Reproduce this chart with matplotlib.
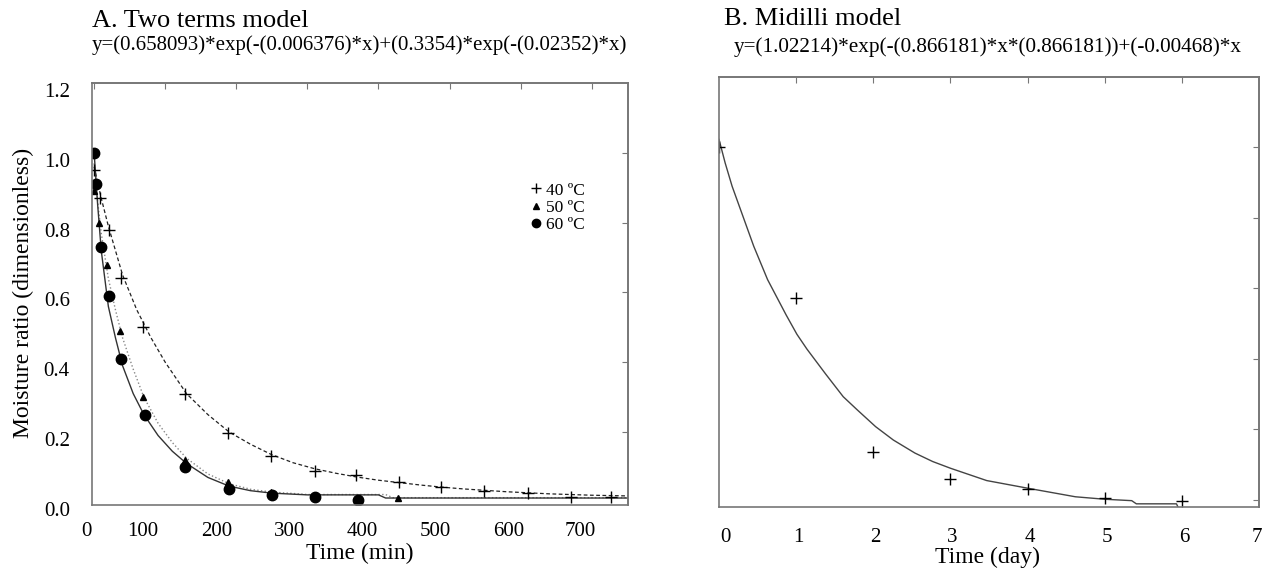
import matplotlib.pyplot as plt
import matplotlib.transforms as mtransforms
from matplotlib.lines import Line2D

plt.rcParams['font.family'] = ['Liberation Serif', 'DejaVu Serif']

# A. two terms model - measured points (time in min, moisture ratio)
t40 = [0, 8, 21, 38, 69, 128, 188, 249, 310, 369, 429, 488, 549, 610, 671, 727]
mr40 = [0.95, 0.87, 0.78, 0.64, 0.50, 0.31, 0.196, 0.131, 0.087, 0.077, 0.056,
        0.044, 0.031, 0.025, 0.015, 0.015]
t50 = [0, 7, 18, 37, 69, 128, 188, 249, 427]
mr50 = [0.89, 0.80, 0.68, 0.49, 0.30, 0.12, 0.056, 0.027, 0.011]
t60 = [0, 3, 9, 21, 38, 71, 128, 190, 250, 310, 371]
mr60 = [1.0, 0.91, 0.73, 0.59, 0.41, 0.25, 0.10, 0.036, 0.020, 0.013, 0.004]

# fitted curves
fit_t40 = [0, 10, 20, 40, 60, 80, 100, 130, 160, 190, 220, 250, 280, 310, 340,
           370, 400, 430, 460, 490, 520, 550, 580, 610, 640, 670, 700, 751]
fit40 = [0.96, 0.87, 0.79, 0.65, 0.55, 0.47, 0.40, 0.31, 0.25, 0.20, 0.165, 0.135,
         0.112, 0.095, 0.082, 0.071, 0.062, 0.055, 0.048, 0.042, 0.037, 0.033,
         0.029, 0.026, 0.023, 0.021, 0.019, 0.017]
fit_t50 = [0, 5, 10, 20, 30, 40, 55, 70, 90, 110, 130, 160, 190, 220, 250, 280,
           300, 410, 420, 751]
fit50 = [0.97, 0.86, 0.77, 0.64, 0.55, 0.47, 0.38, 0.30, 0.225, 0.17, 0.125, 0.08,
         0.052, 0.036, 0.028, 0.024, 0.021, 0.021, 0.012, 0.012]
fit_t60 = [0, 5, 10, 20, 30, 40, 55, 70, 90, 110, 130, 160, 190, 220, 250, 280,
           300, 400, 410, 751]
fit60 = [1.0, 0.85, 0.72, 0.56, 0.47, 0.39, 0.31, 0.25, 0.19, 0.145, 0.11, 0.07,
         0.045, 0.032, 0.025, 0.022, 0.02, 0.02, 0.011, 0.011]

# B. Midilli model (time in days)
days = [0, 1, 2, 3, 4, 5, 6]
mr_day = [1.0, 0.573, 0.137, 0.059, 0.030, 0.005, -0.003]
fit_day = [0, 0.08, 0.17, 0.31, 0.45, 0.63, 0.87, 1.01, 1.14, 1.38, 1.61, 1.79,
           2.03, 2.26, 2.54, 2.77, 3.0, 3.47, 4.01, 4.62, 5.0, 5.35, 5.41, 5.93, 5.95]
fit_mr = [1.023, 0.956, 0.89, 0.805, 0.72, 0.625, 0.525, 0.47, 0.428, 0.358, 0.293,
          0.256, 0.208, 0.17, 0.133, 0.109, 0.09, 0.055, 0.033, 0.009, 0.002,
          -0.002, -0.011, -0.011, -0.02]

W, H = 1263, 573
fig = plt.figure(figsize=(W / 100, H / 100), dpi=100)


def px(x, y):
    return x / W, 1 - y / H


spine_col = '#777777'

# ---- panel A
ax1 = fig.add_axes([92 / W, 68 / H, 536 / W, 422 / H])
ax1.plot(fit_t40, fit40, color='#222222', lw=0.9, ls=(0, (3, 2)))
ax1.plot(fit_t50, fit50, color='#888888', lw=1.0, ls=':')
ax1.plot(fit_t60, fit60, color='#333333', lw=1.0)
ax1.plot(t40, mr40, ls='none', marker='+', ms=8, mew=1.0, color='k')
ax1.plot(t50, mr50, ls='none', marker='^', ms=5, color='k')
ax1.plot(t60, mr60, ls='none', marker='o', ms=7.5, color='k')
ax1.set_xlim(-3, 751)
ax1.set_ylim(-0.009, 1.2)
ax1.set_xticks(range(0, 800, 100))
ax1.set_yticks([0, 0.2, 0.4, 0.6, 0.8, 1.0, 1.2])
ax1.set_yticklabels(['0.0', '0.2', '0.4', '0.6', '0.8', '1.0', '1.2'])
ax1.tick_params(length=0, labelsize=15)
ax1.tick_params(axis='x', pad=12)
ax1.tick_params(axis='y', pad=16)

top1 = ax1.secondary_xaxis('top')
top1.set_xticks(range(0, 800, 100))
top1.tick_params(direction='in', length=4, labeltop=False, color=spine_col)
right1 = ax1.secondary_yaxis('right')
right1.set_yticks([0.2, 0.4, 0.6, 0.8, 1.0])
right1.tick_params(direction='in', length=4, labelright=False, color=spine_col)

shifts = [-8, -22, -20, -18, -16, -14, -12, -11]
for lbl, dx in zip(ax1.get_xticklabels(), shifts):
    lbl.set_transform(lbl.get_transform() +
                      mtransforms.ScaledTranslation(dx / 100, 0, fig.dpi_scale_trans))
for lbl in ax1.get_yticklabels():
    lbl.set_transform(lbl.get_transform() +
                      mtransforms.ScaledTranslation(0, -7 / 100, fig.dpi_scale_trans))

handles = [
    Line2D([], [], ls='none', marker='+', ms=7, mew=1.0, color='k'),
    Line2D([], [], ls='none', marker='^', ms=4.5, color='k'),
    Line2D([], [], ls='none', marker='o', ms=6, color='k'),
]
ax1.legend(handles, ['40 ºC', '50 ºC', '60 ºC'], loc='upper left',
           bbox_to_anchor=(0.80, 0.785), frameon=False, fontsize=12.5,
           handlelength=0.8, handletextpad=0.15, labelspacing=0.05, borderpad=0)

# ---- panel B
ax2 = fig.add_axes([719 / W, 66 / H, 540 / W, 430 / H])
ax2.plot(fit_day, fit_mr, color='#444444', lw=1.0)
ax2.plot(days, mr_day, ls='none', marker='+', ms=8, mew=1.0, color='k')
ax2.set_xlim(0, 7)
ax2.set_ylim(-0.02, 1.2)
ax2.set_xticks(range(0, 8))
ax2.set_yticks([])
ax2.tick_params(length=0, labelsize=15)
ax2.tick_params(axis='x', pad=15)
for lbl, dx in zip(ax2.get_xticklabels(), [6, 2, 2, 2, 2, 2, 2, -2]):
    lbl.set_transform(lbl.get_transform() +
                      mtransforms.ScaledTranslation(dx / 100, 0, fig.dpi_scale_trans))

top2 = ax2.secondary_xaxis('top')
top2.set_xticks(range(1, 7))
top2.tick_params(direction='in', length=4, labeltop=False, color=spine_col)
right2 = ax2.secondary_yaxis('right')
right2.set_yticks([0, 0.2, 0.4, 0.6, 0.8, 1.0])
right2.tick_params(direction='in', length=4, labelright=False, color=spine_col)

for a in (ax1, ax2, top1, right1, top2, right2):
    for s in a.spines.values():
        s.set_color(spine_col)
        s.set_linewidth(1.2)

# ---- texts
fig.text(*px(92, 21), 'A. Two terms model', fontsize=19, va='center', ha='left')
fig.text(*px(92, 45), 'y=(0.658093)*exp(-(0.006376)*x)+(0.3354)*exp(-(0.02352)*x)',
         fontsize=15, va='center', ha='left')
fig.text(*px(724, 19), 'B. Midilli model', fontsize=19, va='center', ha='left')
fig.text(*px(734, 47), 'y=(1.02214)*exp(-(0.866181)*x*(0.866181))+(-0.00468)*x',
         fontsize=15.3, va='center', ha='left')
fig.text(*px(23, 293), 'Moisture ratio (dimensionless)', fontsize=17,
         rotation=90, va='center', ha='center')
fig.text(*px(360, 553), 'Time (min)', fontsize=17, va='center', ha='center')
fig.text(*px(987, 557), 'Time (day)', fontsize=17, va='center', ha='center')

fig.savefig('out.png', dpi=100)
